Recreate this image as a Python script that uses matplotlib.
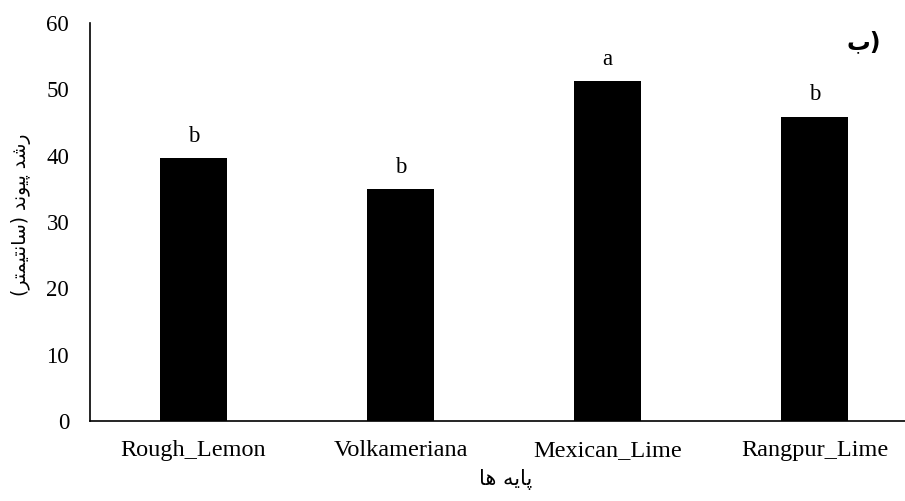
import matplotlib
matplotlib.use("Agg")
import matplotlib.pyplot as plt

categories = ["Rough_Lemon", "Volkameriana", "Mexican_Lime", "Rangpur_Lime"]
values = [39.6, 35.0, 51.3, 45.9]
letters = ["b", "b", "a", "b"]
yticks = [0, 10, 20, 30, 40, 50, 60]

# Persian labels in visual (left-to-right) order with presentation forms
ylabel_txt = "(\uFEAE\uFE98\uFEE4\uFBFF\uFE98\uFEE7\uFE8E\uFEB3) \uFEAA\uFEE7\uFEEE\uFBFF\uFB58 \uFEAA\uFEB7\uFEAD"
xlabel_txt = "\uFE8E\uFEEB \uFEEA\uFBFE\uFE8E\uFB58"
panel_txt = "\uFE8F)"

plt.rcParams['font.family'] = ['Liberation Serif', 'DejaVu Sans']

fig = plt.figure(figsize=(9.05, 5.01), dpi=100)
ax = fig.add_axes([90/905, 80/501, 828/905, 398/501])

x = range(len(categories))
bars = ax.bar(x, values, width=0.323, color='black')
for xi, v, l in zip(x, values, letters):
    ax.annotate(l, (xi, v), xytext=(0, 8), textcoords='offset points',
                ha='center', va='bottom', fontsize=16.5)

ax.set_xlim(-0.5, 3.5)
ax.set_ylim(0, 60)
ax.set_yticks(yticks)
ax.set_xticks(list(x))
ax.set_xticklabels(categories, fontsize=17.5)
ax.tick_params(axis='y', length=0, pad=15, labelsize=16.5)
ax.tick_params(axis='x', length=0, pad=14)
for s in ['top', 'right']:
    ax.spines[s].set_visible(False)
ax.spines['left'].set_linewidth(1.2)
ax.spines['bottom'].set_linewidth(1.2)

fig.text(506/905, 1 - 480/501, xlabel_txt, family=['DejaVu Sans'], fontsize=15,
         ha='center', va='center')
fig.text(21/905, 1 - 215/501, ylabel_txt, family=['DejaVu Sans'], fontsize=13.5,
         ha='center', va='center', rotation=90)
fig.text(864/905, 1 - 42/501, panel_txt, family=['DejaVu Sans'], fontsize=17,
         fontweight='bold', ha='center', va='center')

fig.savefig("out.png", dpi=100)
